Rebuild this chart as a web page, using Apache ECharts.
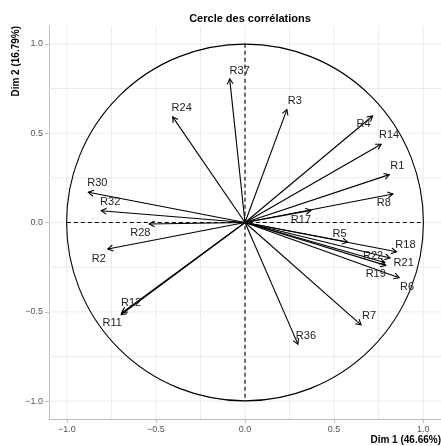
<!DOCTYPE html>
<html>
<head>
<meta charset="utf-8">
<script src="https://cdn.jsdelivr.net/npm/echarts@6/dist/echarts.min.js"></script>
<style>
  html, body { margin: 0; padding: 0; background: #fff; }
  #chart { width: 441px; height: 446px; }
</style>
</head>
<body>
<div id="chart"></div>
<script>
// variables du cercle des corrélations
var names = ["R1", "R2", "R3", "R4", "R5", "R6", "R7", "R8", "R11", "R12", "R14",
             "R17", "R18", "R19", "R21", "R22", "R24", "R28", "R30", "R32", "R36", "R37"];
var dim1 = [0.810, -0.770, 0.235, 0.716, 0.576, 0.865, 0.651, 0.830, -0.695, -0.690, 0.764,
            0.370, 0.850, 0.790, 0.784, 0.814, -0.406, -0.537, -0.879, -0.807, 0.297, -0.086];
var dim2 = [0.268, -0.148, 0.632, 0.596, -0.109, -0.309, -0.573, 0.160, -0.515, -0.505, 0.438,
            0.068, -0.164, -0.240, -0.224, -0.199, 0.591, -0.008, 0.169, 0.066, -0.681, 0.804];
var tickValues = [-1, -0.5, 0, 0.5, 1];
var gridValues = [-1, -0.75, -0.5, -0.25, 0, 0.25, 0.5, 0.75, 1];

// décalage des étiquettes (px) par rapport à la pointe de la flèche
var labelOffset = {
  R1: [8, -9], R2: [-9, 10], R3: [8, -9], R4: [-9, 8], R5: [-8, -8], R6: [8, 9],
  R7: [8, -9], R8: [-9, 9], R11: [-9, 8], R12: [9, -10], R14: [8, -9], R17: [-10, 10],
  R18: [9, -7], R19: [-10, 9], R21: [19, 0], R22: [-17, -2], R24: [9, -9], R28: [-9, 9],
  R30: [9, -9], R32: [9, -9], R36: [8, -8], R37: [10, -8]
};

var FONT = '"Liberation Sans", Arial, sans-serif';
var LIM = 1.1;
var LW = 1.1;

var arrowData = [];
for (var i = 0; i < names.length; i++) {
  arrowData.push([dim1[i], dim2[i], names[i]]);
}

function fmt(v) {
  var s = Math.abs(v).toFixed(1);
  return v < 0 ? "\u2212" + s : s;
}

function axisCfg() {
  return {
    type: "value",
    min: -LIM,
    max: LIM,
    axisLine: { show: true, onZero: false, lineStyle: { color: "#bdbdbd", width: 1 } },
    axisTick: { show: true, customValues: tickValues, length: 4, lineStyle: { color: "#bdbdbd" } },
    axisLabel: {
      customValues: tickValues,
      formatter: fmt,
      color: "#555",
      fontSize: 9,
      fontFamily: FONT,
      margin: 6
    },
    splitLine: { show: false }
  };
}

var chart = echarts.init(document.getElementById("chart"));

var option = {
  animation: false,
  title: {
    text: "Cercle des corrélations",
    left: 245,
    textAlign: "center",
    top: 8,
    textStyle: { fontSize: 11, fontWeight: "bold", color: "#000", fontFamily: FONT }
  },
  grid: { left: 49, right: 0, top: 26, bottom: 27 },
  xAxis: axisCfg(),
  yAxis: axisCfg(),
  graphic: [
    {
      type: "text",
      x: 441,
      y: 440,
      style: {
        text: "Dim 1 (46.66%)",
        textAlign: "right", align: "right",
        textVerticalAlign: "middle", verticalAlign: "middle",
        font: "bold 10px " + FONT,
        fill: "#000"
      }
    },
    {
      type: "text",
      x: 16,
      y: 26,
      rotation: Math.PI / 2,
      style: {
        text: "Dim 2 (16.79%)",
        textAlign: "right", align: "right",
        textVerticalAlign: "middle", verticalAlign: "middle",
        font: "bold 10px " + FONT,
        fill: "#000"
      }
    }
  ],
  series: [
    {
      // grille
      type: "custom",
      silent: true,
      data: gridValues,
      renderItem: function (params, api) {
        var v = api.value(0);
        var a = api.coord([v, -LIM]), b = api.coord([v, LIM]);
        var c = api.coord([-LIM, v]), d = api.coord([LIM, v]);
        return {
          type: "group",
          children: [
            { type: "line", shape: { x1: a[0], y1: a[1], x2: b[0], y2: b[1] }, style: { stroke: "#ebebeb", lineWidth: 1 } },
            { type: "line", shape: { x1: c[0], y1: c[1], x2: d[0], y2: d[1] }, style: { stroke: "#ebebeb", lineWidth: 1 } }
          ]
        };
      },
      z: 1
    },
    {
      // cercle + axes en pointillés
      type: "custom",
      silent: true,
      data: [[0, 0]],
      renderItem: function (params, api) {
        var o = api.coord([0, 0]);
        var r = api.size([1, 1]);
        var l = api.coord([-1, 0]), rr = api.coord([1, 0]);
        var t = api.coord([0, 1]), b = api.coord([0, -1]);
        return {
          type: "group",
          children: [
            { type: "circle", shape: { cx: o[0], cy: o[1], r: (r[0] + r[1]) / 2 }, style: { stroke: "#000", fill: null, lineWidth: LW } },
            { type: "line", shape: { x1: l[0], y1: l[1], x2: rr[0], y2: rr[1] }, style: { stroke: "#000", lineWidth: LW, lineDash: [4, 3] } },
            { type: "line", shape: { x1: t[0], y1: t[1], x2: b[0], y2: b[1] }, style: { stroke: "#000", lineWidth: LW, lineDash: [4, 3] } }
          ]
        };
      },
      z: 2
    },
    {
      // flèches des variables
      type: "custom",
      data: arrowData,
      renderItem: function (params, api) {
        var name = arrowData[params.dataIndex][2];
        var o = api.coord([0, 0]);
        var p = api.coord([api.value(0), api.value(1)]);
        var ang = Math.atan2(p[1] - o[1], p[0] - o[0]);
        var L = 6, a = Math.PI / 6;
        var h1 = [p[0] - L * Math.cos(ang - a), p[1] - L * Math.sin(ang - a)];
        var h2 = [p[0] - L * Math.cos(ang + a), p[1] - L * Math.sin(ang + a)];
        var off = labelOffset[name] || [0, -10];
        return {
          type: "group",
          children: [
            { type: "line", shape: { x1: o[0], y1: o[1], x2: p[0], y2: p[1] }, style: { stroke: "#000", lineWidth: LW } },
            { type: "polyline", shape: { points: [h1, p, h2] }, style: { stroke: "#000", fill: null, lineWidth: LW } },
            {
              type: "text",
              x: p[0] + off[0],
              y: p[1] + off[1],
              style: {
                text: name,
                textAlign: "center", align: "center",
                textVerticalAlign: "middle", verticalAlign: "middle",
                font: "11px " + FONT,
                fill: "#222"
              }
            }
          ]
        };
      },
      z: 3
    }
  ]
};

chart.setOption(option);
</script>
</body>
</html>
